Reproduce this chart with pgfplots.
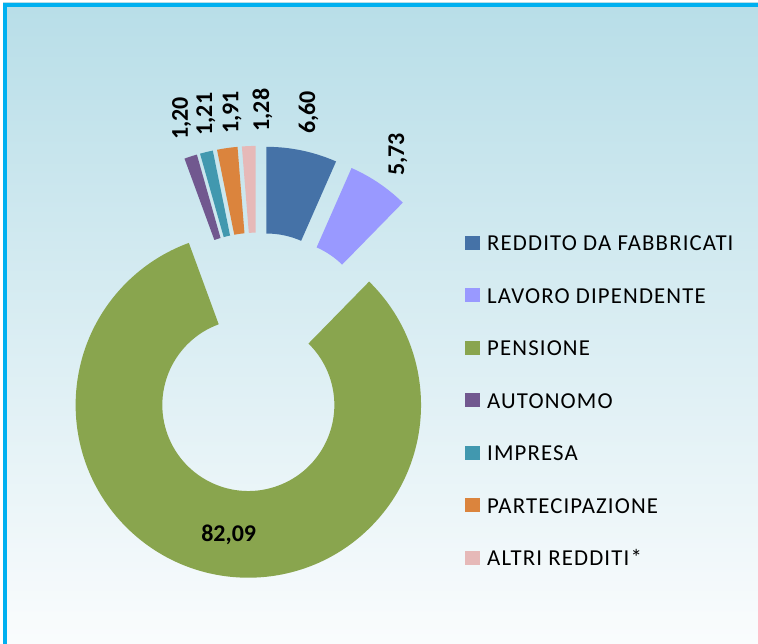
\documentclass[border=0pt]{standalone}
\usepackage{pgfplots}
\usepackage{pgfplotstable}
\usepackage{fontspec}
\pgfplotsset{compat=1.18}
\setmainfont{Carlito}
\newfontfamily\legfont[LetterSpace=5]{Carlito}

\definecolor{c1}{RGB}{69,114,167}
\definecolor{c2}{RGB}{153,153,255}
\definecolor{c3}{RGB}{137,165,78}
\definecolor{c4}{RGB}{113,88,143}
\definecolor{c5}{RGB}{65,152,175}
\definecolor{c6}{RGB}{219,132,61}
\definecolor{c7}{RGB}{230,185,184}
\definecolor{bgtop}{RGB}{184,222,232}
\definecolor{bgbot}{RGB}{250,252,253}
\definecolor{frame}{RGB}{0,176,240}

% redditi, percentuali; ldx/ldy = label nudge so small labels don't collide
\pgfplotstableread[col sep=comma]{
name,value,col,ldx,ldy
REDDITO DA FABBRICATI,6.60,c1,-1,3
LAVORO DIPENDENTE,5.73,c2,-1,-1
PENSIONE,82.09,c3,0,0
AUTONOMO,1.20,c4,2,4
IMPRESA,1.21,c5,8,3
PARTECIPAZIONE,1.91,c6,10,0
ALTRI REDDITI*,1.28,c7,15,0
}\redditi

% geometry (1 unit = 1pt, y up)
\def\Cx{257.5}
\def\Cy{281.7}
\def\Rout{172.7}
\def\Rin{86}
\def\Ex{43.7}

\begin{document}
\begin{tikzpicture}
\begin{axis}[
    x=1pt, y=1pt,
    xmin=0, xmax=758, ymin=0, ymax=644,
    hide axis,
    clip=false,
    enlargelimits=false,
    /pgf/number format/assume math mode=true,
]
\pgfplotsextra{
    % background and frame
    \fill[white] (axis cs:0,0) rectangle (axis cs:758,644);
    \shade[top color=bgtop, bottom color=bgbot] (axis cs:3,0) rectangle (axis cs:758,641);
    \draw[frame, line width=4pt] (axis cs:5,0) -- (axis cs:5,639) -- (axis cs:758,639);
    % slices
    \pgfplotstablegetrowsof{\redditi}
    \pgfmathtruncatemacro\nrows{\pgfplotsretval-1}
    \xdef\tot{0}
    \foreach \i in {0,...,\nrows}{
        \pgfplotstablegetelem{\i}{value}\of\redditi
        \pgfmathsetmacro\tsum{\tot+\pgfplotsretval}
        \xdef\tot{\tsum}
    }
    \pgfmathsetmacro\k{360/\tot}
    \xdef\cum{0}
    \foreach \i in {0,...,\nrows}{
        \pgfplotstablegetelem{\i}{value}\of\redditi \let\val\pgfplotsretval
        \pgfplotstablegetelem{\i}{col}\of\redditi \let\col\pgfplotsretval
        \pgfplotstablegetelem{\i}{name}\of\redditi \let\nm\pgfplotsretval
        \pgfplotstablegetelem{\i}{ldx}\of\redditi \let\ldx\pgfplotsretval
        \pgfplotstablegetelem{\i}{ldy}\of\redditi \let\ldy\pgfplotsretval
        \pgfmathsetmacro\ta{90-\k*\cum}
        \pgfmathsetmacro\tb{90-\k*(\cum+\val)}
        \pgfmathsetmacro\tm{(\ta+\tb)/2}
        \pgfmathsetmacro\cx{\Cx+\Ex*cos(\tm)}
        \pgfmathsetmacro\cy{\Cy+\Ex*sin(\tm)}
        \pgfmathsetmacro\xa{\cx+\Rin*cos(\ta)}
        \pgfmathsetmacro\ya{\cy+\Rin*sin(\ta)}
        \pgfmathsetmacro\xA{\cx+\Rout*cos(\ta)}
        \pgfmathsetmacro\yA{\cy+\Rout*sin(\ta)}
        \pgfmathsetmacro\xb{\cx+\Rin*cos(\tb)}
        \pgfmathsetmacro\yb{\cy+\Rin*sin(\tb)}
        \fill[\col] (axis cs:\xa,\ya) -- (axis cs:\xA,\yA)
            arc[start angle=\ta, end angle=\tb, radius=\Rout pt]
            -- (axis cs:\xb,\yb)
            arc[start angle=\tb, end angle=\ta, radius=\Rin pt] -- cycle;
        % data label
        \pgfmathparse{\val>50 ? 1 : 0}
        \ifnum\pgfmathresult=1
            \pgfmathsetmacro\lx{\cx+131*cos(\tm+3.5)}
            \pgfmathsetmacro\ly{\cy+131*sin(\tm+3.5)}
            \node[font=\fontsize{24}{28}\selectfont\bfseries, inner sep=0pt]
                at (axis cs:\lx,\ly) {\pgfmathprintnumber[fixed, fixed zerofill, precision=2, use comma]{\val}};
        \else
            \pgfmathsetmacro\lx{\cx+(\Rout+36)*cos(\tm)+\ldx}
            \pgfmathsetmacro\ly{\cy+(\Rout+36)*sin(\tm)+\ldy}
            \node[font=\fontsize{24}{28}\selectfont\bfseries, inner sep=0pt, rotate=90]
                at (axis cs:\lx,\ly) {\pgfmathprintnumber[fixed, fixed zerofill, precision=2, use comma]{\val}};
        \fi
        % legend entry
        \pgfmathsetmacro\ry{644-236-52.5*\i}
        \pgfmathsetmacro\rb{\ry-14}
        \pgfmathsetmacro\rt{\ry-14.7}
        \fill[\col] (axis cs:465,\ry) rectangle (axis cs:480,\rb);
        \node[anchor=base west, inner sep=0pt, font=\legfont\fontsize{22.8}{27}\selectfont]
            at (axis cs:487,\rt) {\nm};
        \pgfmathsetmacro\c{\cum+\val}
        \xdef\cum{\c}
    }
}
\end{axis}
\pgfresetboundingbox
\path (current axis.south west) rectangle (current axis.north east);
\end{tikzpicture}
\end{document}
